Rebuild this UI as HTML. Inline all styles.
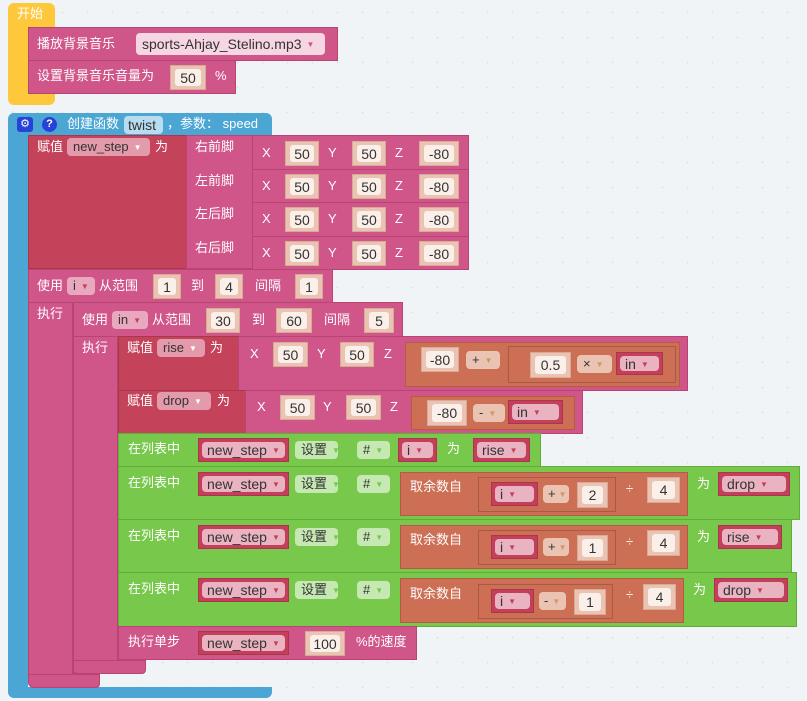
<!DOCTYPE html>
<html><head><meta charset="utf-8"><style>
body{margin:0;width:807px;height:701px;overflow:hidden;background:#f1f4f6;background-image:radial-gradient(#dde2e6 1px,transparent 1px);background-size:25px 25px;font-family:"Liberation Sans","Noto Sans CJK SC",sans-serif;font-size:13px;position:relative}
div,span{position:absolute;box-sizing:border-box}
.t{color:#fff;white-space:nowrap;line-height:16px}
.y{background:#fec83c}
.p{background:#d05589;border:1px solid #b84473}
.k{background:#c4425a;border:1px solid #a8374d}
.bl{background:#4ca6d4}
.g{background:#78c84c;border:1px solid #62ad3a}
.o{background:#cd6f54;border:1px solid #b35c43}
.oi{background:#cd6f54;border:1px solid #a85a44}
.f{background:#ebc3b3;border:1px solid #d6a998}
.f span{left:4px;right:4px;top:3px;bottom:3px;background:#fbefe9;border-radius:3px;color:#333;text-align:center;line-height:18px;font-size:14px}
.v{background:#c4405a;border:1px solid #a8374d}
.v>span{left:3px;right:3px;top:3px;bottom:3px;background:#eab3c2;border-radius:4px;color:#333;padding-left:5px;line-height:17px;font-size:14px;white-space:nowrap}
.dd{border-radius:4px;color:#333;padding-left:6px;line-height:18px;font-size:13px;white-space:nowrap}
span.ar{position:static!important;font-size:8px!important;color:#c96;margin-left:5px;vertical-align:middle;line-height:10px}
</style></head><body>

<!-- yellow start -->
<div class="y" style="left:8px;top:3px;width:47px;height:102px;border-radius:6px 6px 6px 6px"></div>
<div class="t" style="left:17px;top:6px">开始</div>
<div class="p" style="left:28px;top:27px;width:310px;height:34px"></div>
<div class="t" style="left:37px;top:36px">播放背景音乐</div>
<div class="dd" style="left:136px;top:33px;width:189px;height:22px;background:#f6d6e2;line-height:22px;font-size:14px">sports-Ahjay_Stelino.mp3<span class="ar" style="color:#d05589">▼</span></div>
<div class="p" style="left:28px;top:60px;width:208px;height:34px"></div>
<div class="t" style="left:37px;top:68px">设置背景音乐音量为</div>
<div class="f" style="left:170px;top:65px;width:36px;height:25px"><span>50</span></div>
<div class="t" style="left:215px;top:68px">%</div>

<!-- blue function -->
<div class="bl" style="left:8px;top:113px;width:264px;height:585px;border-radius:6px"></div>
<div style="left:28px;top:135px;width:244px;height:552px;background:#f1f4f6"></div>
<div style="left:28px;top:135px;width:244px;height:552px;background-image:radial-gradient(#dde2e6 1px,transparent 1px);background-size:25px 25px;background-position:-28px -135px"></div>
<div style="left:17px;top:117px;width:16px;height:15px;background:#2742d6;border-radius:3px;color:#fff;font-size:11px;text-align:center;line-height:15px">⚙</div>
<div style="left:42px;top:117px;width:15px;height:15px;background:#2742d6;border-radius:50%;color:#fff;font-size:11px;font-weight:bold;text-align:center;line-height:15px">?</div>
<div class="t" style="left:67px;top:116px">创建函数</div>
<div class="dd" style="left:124px;top:116px;width:39px;height:18px;background:#b8ddf0;line-height:18px;font-size:14px;padding-left:4px">twist</div>
<div class="t" style="left:167px;top:116px">，参数： speed</div>

<!-- assign new_step -->
<div class="k" style="left:28px;top:135px;width:159px;height:134px"></div>
<div class="t" style="left:37px;top:139px">赋值</div>
<div class="dd" style="left:67px;top:138px;width:83px;height:18px;background:#e39aab">new_step<span class="ar" style="color:#fff">▼</span></div>
<div class="t" style="left:155px;top:139px">为</div>
<div class="p" style="left:186px;top:135px;width:67px;height:134px"></div>
<div class="t" style="left:195px;top:139px">右前脚</div>
<div class="t" style="left:195px;top:173px">左前脚</div>
<div class="t" style="left:195px;top:206px">左后脚</div>
<div class="t" style="left:195px;top:240px">右后脚</div>

<!-- rows -->
<div class="p" style="left:252px;top:135px;width:217px;height:35px"></div>
<div class="p" style="left:252px;top:169px;width:217px;height:34px"></div>
<div class="p" style="left:252px;top:202px;width:217px;height:35px"></div>
<div class="p" style="left:252px;top:236px;width:217px;height:34px"></div>

<div class="t" style="left:262px;top:145px">X</div><div class="f" style="left:285px;top:141px;width:34px;height:25px"><span>50</span></div>
<div class="t" style="left:328px;top:145px">Y</div><div class="f" style="left:352px;top:141px;width:34px;height:25px"><span>50</span></div>
<div class="t" style="left:395px;top:145px">Z</div><div class="f" style="left:419px;top:141px;width:40px;height:25px"><span>-80</span></div>

<div class="t" style="left:262px;top:178px">X</div><div class="f" style="left:285px;top:174px;width:34px;height:25px"><span>50</span></div>
<div class="t" style="left:328px;top:178px">Y</div><div class="f" style="left:352px;top:174px;width:34px;height:25px"><span>50</span></div>
<div class="t" style="left:395px;top:178px">Z</div><div class="f" style="left:419px;top:174px;width:40px;height:25px"><span>-80</span></div>

<div class="t" style="left:262px;top:211px">X</div><div class="f" style="left:285px;top:207px;width:34px;height:25px"><span>50</span></div>
<div class="t" style="left:328px;top:211px">Y</div><div class="f" style="left:352px;top:207px;width:34px;height:25px"><span>50</span></div>
<div class="t" style="left:395px;top:211px">Z</div><div class="f" style="left:419px;top:207px;width:40px;height:25px"><span>-80</span></div>

<div class="t" style="left:262px;top:245px">X</div><div class="f" style="left:285px;top:241px;width:34px;height:25px"><span>50</span></div>
<div class="t" style="left:328px;top:245px">Y</div><div class="f" style="left:352px;top:241px;width:34px;height:25px"><span>50</span></div>
<div class="t" style="left:395px;top:245px">Z</div><div class="f" style="left:419px;top:241px;width:40px;height:25px"><span>-80</span></div>

<!-- outer for -->
<div class="p" style="left:28px;top:269px;width:45px;height:419px;border-radius:0 0 0 6px"></div>
<div class="p" style="left:28px;top:674px;width:72px;height:14px;border-radius:0 0 4px 6px"></div>
<div class="p" style="left:28px;top:269px;width:305px;height:34px"></div>
<div class="t" style="left:37px;top:278px">使用</div>
<div class="dd" style="left:67px;top:277px;width:28px;height:18px;background:#e8a8bd">i<span class="ar" style="color:#c4405a">▼</span></div>
<div class="t" style="left:99px;top:278px">从范围</div>
<div class="f" style="left:153px;top:274px;width:28px;height:25px"><span>1</span></div>
<div class="t" style="left:191px;top:278px">到</div>
<div class="f" style="left:215px;top:274px;width:28px;height:25px"><span>4</span></div>
<div class="t" style="left:255px;top:278px">间隔</div>
<div class="f" style="left:295px;top:274px;width:28px;height:25px"><span>1</span></div>
<div class="t" style="left:37px;top:306px">执行</div>

<!-- inner for -->
<div class="p" style="left:73px;top:302px;width:45px;height:372px"></div>
<div class="p" style="left:73px;top:660px;width:73px;height:14px;border-radius:0 0 4px 4px"></div>
<div class="p" style="left:73px;top:302px;width:330px;height:35px"></div>
<div class="t" style="left:82px;top:312px">使用</div>
<div class="dd" style="left:112px;top:311px;width:36px;height:18px;background:#e8a8bd">in<span class="ar" style="color:#c4405a">▼</span></div>
<div class="t" style="left:152px;top:312px">从范围</div>
<div class="f" style="left:206px;top:308px;width:34px;height:25px"><span>30</span></div>
<div class="t" style="left:252px;top:312px">到</div>
<div class="f" style="left:276px;top:308px;width:36px;height:25px"><span>60</span></div>
<div class="t" style="left:324px;top:312px">间隔</div>
<div class="f" style="left:364px;top:308px;width:30px;height:25px"><span>5</span></div>
<div class="t" style="left:82px;top:340px">执行</div>

<!-- rise -->
<div class="k" style="left:118px;top:336px;width:121px;height:55px"></div>
<div class="t" style="left:127px;top:340px">赋值</div>
<div class="dd" style="left:157px;top:339px;width:48px;height:18px;background:#e39aab">rise<span class="ar" style="color:#fff">▼</span></div>
<div class="t" style="left:210px;top:340px">为</div>
<div class="p" style="left:238px;top:336px;width:450px;height:55px"></div>
<div class="t" style="left:250px;top:346px">X</div><div class="f" style="left:273px;top:342px;width:35px;height:25px"><span>50</span></div>
<div class="t" style="left:317px;top:346px">Y</div><div class="f" style="left:340px;top:342px;width:34px;height:25px"><span>50</span></div>
<div class="t" style="left:384px;top:346px">Z</div>
<div class="o" style="left:405px;top:342px;width:275px;height:45px"></div>
<div class="f" style="left:421px;top:347px;width:38px;height:25px"><span>-80</span></div>
<div class="dd" style="left:466px;top:351px;width:34px;height:18px;background:#ebc3b3">+<span class="ar">▼</span></div>
<div class="oi" style="left:508px;top:346px;width:168px;height:37px"></div>
<div class="f" style="left:530px;top:352px;width:41px;height:26px"><span>0.5</span></div>
<div class="dd" style="left:577px;top:355px;width:35px;height:18px;background:#ebc3b3">×<span class="ar">▼</span></div>
<div class="v" style="left:616px;top:352px;width:47px;height:23px"><span>in<span class="ar" style="color:#c4405a">▼</span></span></div>

<!-- drop -->
<div class="k" style="left:118px;top:390px;width:128px;height:44px"></div>
<div class="t" style="left:127px;top:393px">赋值</div>
<div class="dd" style="left:157px;top:392px;width:54px;height:18px;background:#e39aab">drop<span class="ar" style="color:#fff">▼</span></div>
<div class="t" style="left:217px;top:393px">为</div>
<div class="p" style="left:245px;top:390px;width:338px;height:44px"></div>
<div class="t" style="left:257px;top:399px">X</div><div class="f" style="left:280px;top:395px;width:35px;height:25px"><span>50</span></div>
<div class="t" style="left:323px;top:399px">Y</div><div class="f" style="left:346px;top:395px;width:35px;height:25px"><span>50</span></div>
<div class="t" style="left:390px;top:399px">Z</div>
<div class="o" style="left:411px;top:396px;width:164px;height:34px"></div>
<div class="f" style="left:427px;top:400px;width:40px;height:26px"><span>-80</span></div>
<div class="dd" style="left:473px;top:404px;width:32px;height:18px;background:#ebc3b3">-<span class="ar">▼</span></div>
<div class="v" style="left:508px;top:400px;width:55px;height:24px"><span>in<span class="ar" style="color:#c4405a">▼</span></span></div>

<!-- green 1 -->
<div class="g" style="left:118px;top:433px;width:423px;height:34px"></div>
<div class="t" style="left:128px;top:441px">在列表中</div>
<div class="v" style="left:198px;top:438px;width:91px;height:24px"><span>new_step<span class="ar" style="color:#c4405a">▼</span></span></div>
<div class="dd" style="left:295px;top:441px;width:43px;height:18px;background:#c6e8b2">设置<span class="ar" style="color:#78c84c">▼</span></div>
<div class="dd" style="left:357px;top:441px;width:33px;height:18px;background:#c6e8b2">#<span class="ar" style="color:#78c84c">▼</span></div>
<div class="v" style="left:398px;top:438px;width:39px;height:24px"><span>i<span class="ar" style="color:#c4405a">▼</span></span></div>
<div class="t" style="left:447px;top:441px">为</div>
<div class="v" style="left:473px;top:438px;width:57px;height:24px"><span>rise<span class="ar" style="color:#c4405a">▼</span></span></div>

<!-- green 2 -->
<div class="g" style="left:118px;top:466px;width:682px;height:54px"></div>
<div class="t" style="left:128px;top:475px">在列表中</div>
<div class="v" style="left:198px;top:472px;width:91px;height:24px"><span>new_step<span class="ar" style="color:#c4405a">▼</span></span></div>
<div class="dd" style="left:295px;top:475px;width:43px;height:18px;background:#c6e8b2">设置<span class="ar" style="color:#78c84c">▼</span></div>
<div class="dd" style="left:357px;top:475px;width:33px;height:18px;background:#c6e8b2">#<span class="ar" style="color:#78c84c">▼</span></div>
<div class="o" style="left:400px;top:472px;width:288px;height:44px"></div>
<div class="t" style="left:410px;top:479px">取余数自</div>
<div class="oi" style="left:478px;top:477px;width:138px;height:35px"></div>
<div class="v" style="left:491px;top:482px;width:47px;height:24px"><span>i<span class="ar" style="color:#c4405a">▼</span></span></div>
<div class="dd" style="left:543px;top:485px;width:26px;height:18px;background:#ebc3b3;padding-left:5px">+<span class="ar" style="margin-left:3px">▼</span></div>
<div class="f" style="left:577px;top:482px;width:31px;height:26px"><span>2</span></div>
<div class="t" style="left:626px;top:481px">÷</div>
<div class="f" style="left:647px;top:477px;width:33px;height:26px"><span>4</span></div>
<div class="t" style="left:697px;top:476px">为</div>
<div class="v" style="left:718px;top:472px;width:72px;height:24px"><span>drop<span class="ar" style="color:#c4405a">▼</span></span></div>

<!-- green 3 -->
<div class="g" style="left:118px;top:519px;width:674px;height:54px"></div>
<div class="t" style="left:128px;top:528px">在列表中</div>
<div class="v" style="left:198px;top:525px;width:91px;height:24px"><span>new_step<span class="ar" style="color:#c4405a">▼</span></span></div>
<div class="dd" style="left:295px;top:528px;width:43px;height:18px;background:#c6e8b2">设置<span class="ar" style="color:#78c84c">▼</span></div>
<div class="dd" style="left:357px;top:528px;width:33px;height:18px;background:#c6e8b2">#<span class="ar" style="color:#78c84c">▼</span></div>
<div class="o" style="left:400px;top:525px;width:288px;height:44px"></div>
<div class="t" style="left:410px;top:532px">取余数自</div>
<div class="oi" style="left:478px;top:530px;width:138px;height:35px"></div>
<div class="v" style="left:491px;top:535px;width:47px;height:24px"><span>i<span class="ar" style="color:#c4405a">▼</span></span></div>
<div class="dd" style="left:543px;top:538px;width:26px;height:18px;background:#ebc3b3;padding-left:5px">+<span class="ar" style="margin-left:3px">▼</span></div>
<div class="f" style="left:577px;top:535px;width:31px;height:26px"><span>1</span></div>
<div class="t" style="left:626px;top:534px">÷</div>
<div class="f" style="left:647px;top:530px;width:33px;height:26px"><span>4</span></div>
<div class="t" style="left:697px;top:529px">为</div>
<div class="v" style="left:718px;top:525px;width:64px;height:24px"><span>rise<span class="ar" style="color:#c4405a">▼</span></span></div>

<!-- green 4 -->
<div class="g" style="left:118px;top:572px;width:679px;height:55px"></div>
<div class="t" style="left:128px;top:581px">在列表中</div>
<div class="v" style="left:198px;top:578px;width:91px;height:24px"><span>new_step<span class="ar" style="color:#c4405a">▼</span></span></div>
<div class="dd" style="left:295px;top:581px;width:43px;height:18px;background:#c6e8b2">设置<span class="ar" style="color:#78c84c">▼</span></div>
<div class="dd" style="left:357px;top:581px;width:33px;height:18px;background:#c6e8b2">#<span class="ar" style="color:#78c84c">▼</span></div>
<div class="o" style="left:400px;top:578px;width:284px;height:45px"></div>
<div class="t" style="left:410px;top:586px">取余数自</div>
<div class="oi" style="left:478px;top:584px;width:135px;height:35px"></div>
<div class="v" style="left:491px;top:589px;width:43px;height:24px"><span>i<span class="ar" style="color:#c4405a">▼</span></span></div>
<div class="dd" style="left:539px;top:592px;width:27px;height:18px;background:#ebc3b3;padding-left:5px">-<span class="ar" style="margin-left:4px">▼</span></div>
<div class="f" style="left:574px;top:589px;width:32px;height:26px"><span>1</span></div>
<div class="t" style="left:626px;top:587px">÷</div>
<div class="f" style="left:643px;top:584px;width:33px;height:26px"><span>4</span></div>
<div class="t" style="left:693px;top:582px">为</div>
<div class="v" style="left:714px;top:578px;width:74px;height:24px"><span>drop<span class="ar" style="color:#c4405a">▼</span></span></div>

<!-- step -->
<div class="p" style="left:118px;top:626px;width:299px;height:34px"></div>
<div class="t" style="left:128px;top:634px">执行单步</div>
<div class="v" style="left:198px;top:631px;width:91px;height:24px"><span>new_step<span class="ar" style="color:#c4405a">▼</span></span></div>
<div class="f" style="left:305px;top:631px;width:40px;height:25px"><span>100</span></div>
<div class="t" style="left:356px;top:634px">%的速度</div>

</body></html>
